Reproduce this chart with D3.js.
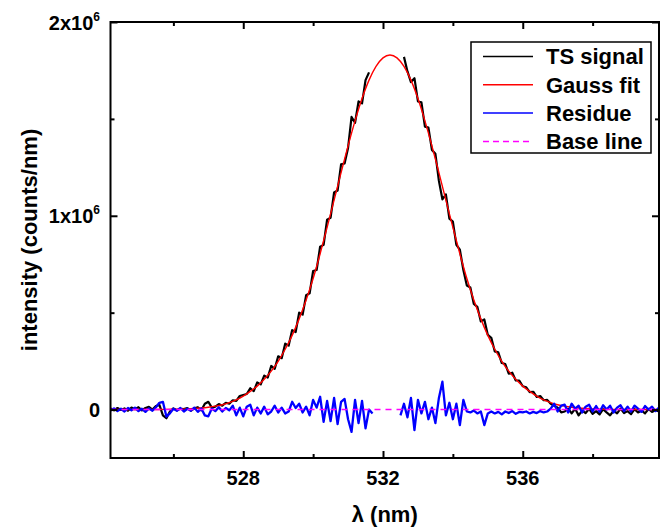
<!DOCTYPE html>
<html>
<head>
<meta charset="utf-8">
<script src="https://cdn.jsdelivr.net/npm/d3@7"></script>
<style>
  body { margin: 0; background: #fff; }
  svg { display: block; }
  text { font-family: "Liberation Sans", Arial, sans-serif; font-weight: bold; fill: #000; }
</style>
</head>
<body>
<div id="chart"></div>
<script>
// ---------------------------------------------------------------
// data (intensity in units of 10^6 counts/nm)
// ---------------------------------------------------------------
const signalStart = 524.2   // nm, first sample of TS signal / residue
const signalStep = 0.1      // nm between samples

// TS signal, null where the notch hides it
const tsSignal = [
  0.005, -0.004, 0.008, -0.002, 0.006, -0.006, 0.010, 0.002, 0.012, -0.004,
  0.008, 0.014, 0.000, 0.018, 0.024, -0.030, -0.045, -0.010, 0.006, -0.004,
  0.004, 0.002, 0.008, -0.006, 0.006, 0.012, -0.004, 0.030, 0.040, 0.010,
  0.015, 0.028, 0.020, 0.035, 0.030, 0.048, 0.045, 0.070, 0.075, 0.080,
  0.110, 0.095, 0.140, 0.130, 0.175, 0.165, 0.225, 0.210, 0.275, 0.265,
  0.340, 0.330, 0.410, 0.400, 0.500, 0.490, 0.590, 0.600, 0.715, 0.720,
  0.840, 0.850, 0.980, 0.990, 1.120, 1.130, 1.265, 1.270, 1.350, 1.510,
  1.480, 1.590, 1.580, 1.700, 1.740, null, null, null, null, null,
  null, null, null, null, 1.820, 1.745, 1.690, 1.710, 1.590, 1.585,
  1.460, 1.455, 1.340, 1.320, 1.180, 1.085, 1.110, 0.985, 0.970, 0.850,
  0.825, 0.720, 0.640, 0.630, 0.545, 0.530, 0.455, 0.465, 0.385, 0.370,
  0.300, 0.295, 0.240, 0.235, 0.185, 0.190, 0.150, 0.150, 0.120, 0.115,
  0.090, 0.092, 0.065, 0.070, 0.048, 0.050, 0.030, 0.020, 0.010, -0.015,
  -0.010, 0.005, -0.020, 0.004, -0.030, -0.005, -0.018, 0.004, -0.022, -0.008,
  -0.025, 0.002, -0.015, -0.030, -0.006, -0.020, 0.005, -0.018, -0.008, -0.024,
  0.002, -0.015, -0.005, -0.020, 0.003, -0.012, -0.004, -0.010
]

// residue (signal - fit)
const residue = [
  -0.005, 0.006, -0.008, 0.004, -0.010, 0.008, -0.004, 0.010, -0.008, 0.004,
  -0.012, 0.006, -0.006, 0.012, 0.035, 0.040, -0.036, -0.020, 0.004, -0.006,
  0.008, -0.010, 0.004, -0.006, 0.010, -0.012, 0.006, -0.030, -0.035, 0.005,
  -0.008, 0.012, -0.010, 0.008, -0.004, 0.020, -0.030, 0.010, -0.035, 0.015,
  0.025, -0.030, 0.010, -0.020, 0.015, -0.025, -0.010, 0.020, -0.015, 0.010,
  -0.020, -0.010, 0.040, 0.008, 0.030, -0.015, 0.015, -0.030, 0.050, 0.010,
  0.066, -0.063, 0.045, -0.060, 0.060, -0.075, 0.040, 0.055, -0.050, -0.115,
  0.050, -0.070, 0.045, -0.097, 0.000, -0.020, null, null, null, null,
  null, null, null, -0.030, 0.030, -0.040, 0.060, -0.106, 0.050, -0.020,
  0.040, -0.050, 0.010, -0.070, 0.060, 0.144, -0.030, 0.035, -0.050, 0.030,
  -0.080, 0.050, -0.010, -0.015, -0.005, -0.020, -0.010, -0.080, -0.020, -0.010,
  -0.020, -0.012, -0.025, -0.010, -0.018, -0.008, -0.022, -0.012, -0.015, -0.010,
  -0.020, -0.012, -0.018, -0.008, -0.015, -0.010, 0.005, 0.030, -0.010, 0.020,
  0.025, -0.015, 0.030, 0.005, 0.020, -0.015, 0.015, 0.025, -0.010, 0.018,
  -0.012, 0.022, 0.000, 0.020, -0.015, 0.010, 0.022, -0.008, 0.015, -0.010,
  0.020, 0.005, -0.012, 0.018, 0.000, 0.015, -0.008, 0.010
]

const fitStart = 524.2
const fitStep = 0.2
const gaussFit = [
  0.0000, 0.0000, 0.0000, 0.0000, 0.0001, 0.0002, 0.0003, 0.0006, 0.0009, 0.0014,
  0.0023, 0.0035, 0.0054, 0.0080, 0.0120, 0.0175, 0.0250, 0.0360, 0.0500, 0.0690,
  0.0935, 0.1210, 0.1560, 0.1980, 0.2490, 0.3110, 0.3830, 0.4680, 0.5650, 0.6760,
  0.8040, 0.9400, 1.0810, 1.2230, 1.3610, 1.4900, 1.6050, 1.7000, 1.7710, 1.8150,
  1.8300, 1.8150, 1.7710, 1.7000, 1.6050, 1.4900, 1.3610, 1.2230, 1.0810, 0.9400,
  0.8040, 0.6760, 0.5650, 0.4680, 0.3830, 0.3110, 0.2490, 0.1980, 0.1560, 0.1210,
  0.0935, 0.0690, 0.0500, 0.0360, 0.0250, 0.0175, 0.0120, 0.0080, 0.0054, 0.0035,
  0.0023, 0.0014, 0.0009, 0.0006, 0.0003, 0.0002, 0.0001, 0.0001, 0.0000, 0.0000
]

const baseLine = [0, 0]   // flat base line across the range

const xMajorTicks = [528, 532, 536]
const xMinorTicks = [526, 530, 534, 538]
const yMajorTicks = [0, 1, 2]
const yMinorTicks = [0.5, 1.5]
const yTickBase = ["0", "1x10", "2x10"]
const yTickSup = ["", "6", "6"]

const legendNames = ["TS signal", "Gauss fit", "Residue", "Base line"]
const legendColors = ["#000000", "#ff0000", "#0000ff", "#ff00ff"]

// ---------------------------------------------------------------
// layout
// ---------------------------------------------------------------
const width = 663, height = 530
const plot = { left: 110.5, right: 659, top: 22, bottom: 458 }

const svg = d3.select("#chart").append("svg")
    .attr("width", width)
    .attr("height", height)

const x = d3.scaleLinear().domain([524.2, 539.9]).range([plot.left, plot.right])
const y = d3.scaleLinear().domain([-0.25, 2]).range([plot.bottom, plot.top])

svg.append("clipPath").attr("id", "clip")
    .append("rect")
    .attr("x", plot.left).attr("y", plot.top)
    .attr("width", plot.right - plot.left).attr("height", plot.bottom - plot.top)

const lines = svg.append("g").attr("clip-path", "url(#clip)")

const signalPts = tsSignal.map((v, i) => ({ x: signalStart + i * signalStep, v: v }))
const residuePts = residue.map((v, i) => ({ x: signalStart + i * signalStep, v: v }))
const fitPts = gaussFit.map((v, i) => ({ x: fitStart + i * fitStep, v: v }))
const basePts = [{ x: x.domain()[0], v: baseLine[0] }, { x: x.domain()[1], v: baseLine[1] }]

const line = d3.line()
    .defined(d => d.v != null)
    .x(d => x(d.x))
    .y(d => y(d.v))

lines.append("path").datum(signalPts)
    .attr("d", line)
    .attr("fill", "none").attr("stroke", legendColors[0]).attr("stroke-width", 2.2)
    .attr("stroke-linejoin", "round")

lines.append("path").datum(fitPts)
    .attr("d", line.curve(d3.curveMonotoneX))
    .attr("fill", "none").attr("stroke", legendColors[1]).attr("stroke-width", 1.4)
line.curve(d3.curveLinear)

lines.append("path").datum(residuePts)
    .attr("d", line)
    .attr("fill", "none").attr("stroke", legendColors[2]).attr("stroke-width", 2.3)
    .attr("stroke-linejoin", "round")

lines.append("path").datum(basePts)
    .attr("d", line)
    .attr("fill", "none").attr("stroke", legendColors[3]).attr("stroke-width", 1.5)
    .attr("stroke-dasharray", "6,5")

// ---------------------------------------------------------------
// axes (ticks pointing inward on all four sides)
// ---------------------------------------------------------------
function addAxis(axis, tx, ty) {
    const g = svg.append("g").attr("transform", "translate(" + tx + "," + ty + ")").call(axis)
    g.select(".domain").remove()
    g.selectAll(".tick line").attr("stroke-width", 2)
    return g
}

addAxis(d3.axisBottom(x).tickValues(xMajorTicks).tickSize(-7).tickFormat(""), 0, plot.bottom)
addAxis(d3.axisBottom(x).tickValues(xMinorTicks).tickSize(-4).tickFormat(""), 0, plot.bottom)
addAxis(d3.axisTop(x).tickValues(xMajorTicks).tickSize(-7).tickFormat(""), 0, plot.top)
addAxis(d3.axisTop(x).tickValues(xMinorTicks).tickSize(-4).tickFormat(""), 0, plot.top)
addAxis(d3.axisLeft(y).tickValues(yMajorTicks).tickSize(-7).tickFormat(""), plot.left, 0)
addAxis(d3.axisLeft(y).tickValues(yMinorTicks).tickSize(-4).tickFormat(""), plot.left, 0)
addAxis(d3.axisRight(y).tickValues(yMajorTicks).tickSize(-7).tickFormat(""), plot.right, 0)
addAxis(d3.axisRight(y).tickValues(yMinorTicks).tickSize(-4).tickFormat(""), plot.right, 0)

svg.append("rect")
    .attr("x", plot.left).attr("y", plot.top)
    .attr("width", plot.right - plot.left).attr("height", plot.bottom - plot.top)
    .attr("fill", "none").attr("stroke", "#000").attr("stroke-width", 2)

// tick labels
svg.selectAll(".xlab").data(xMajorTicks).enter().append("text")
    .attr("x", d => x(d)).attr("y", 485)
    .attr("text-anchor", "middle").style("font-size", "20px")
    .text(d => d)

yMajorTicks.forEach((v, i) => {
    const t = svg.append("text")
        .attr("x", 100).attr("y", y(v)).attr("dy", "0.38em")
        .attr("text-anchor", "end").style("font-size", "20px")
    t.append("tspan").text(yTickBase[i])
    if (yTickSup[i]) {
        t.append("tspan").attr("dy", -9).style("font-size", "12px").text(yTickSup[i])
    }
})

// axis titles
svg.append("text")
    .attr("x", (plot.left + plot.right) / 2).attr("y", 522)
    .attr("text-anchor", "middle").style("font-size", "22px")
    .text("λ (nm)")

svg.append("text")
    .attr("transform", "translate(37," + ((plot.top + plot.bottom) / 2) + ") rotate(-90)")
    .attr("text-anchor", "middle").style("font-size", "22px")
    .text("intensity (counts/nm)")

// ---------------------------------------------------------------
// legend
// ---------------------------------------------------------------
const legend = svg.append("g")
legend.append("rect")
    .attr("x", 471).attr("y", 42).attr("width", 180).attr("height", 111)
    .attr("fill", "#fff").attr("stroke", "#000").attr("stroke-width", 1.5)

legendNames.forEach((name, i) => {
    const cy = 56.5 + i * 28.3
    legend.append("line")
        .attr("x1", 483).attr("x2", 533).attr("y1", cy).attr("y2", cy)
        .attr("stroke", legendColors[i]).attr("stroke-width", 1.5)
        .attr("stroke-dasharray", i == 3 ? "6,4" : null)
    legend.append("text")
        .attr("x", 546).attr("y", cy).attr("dy", "0.36em")
        .style("font-size", "22px")
        .text(name)
})
</script>
</body>
</html>
